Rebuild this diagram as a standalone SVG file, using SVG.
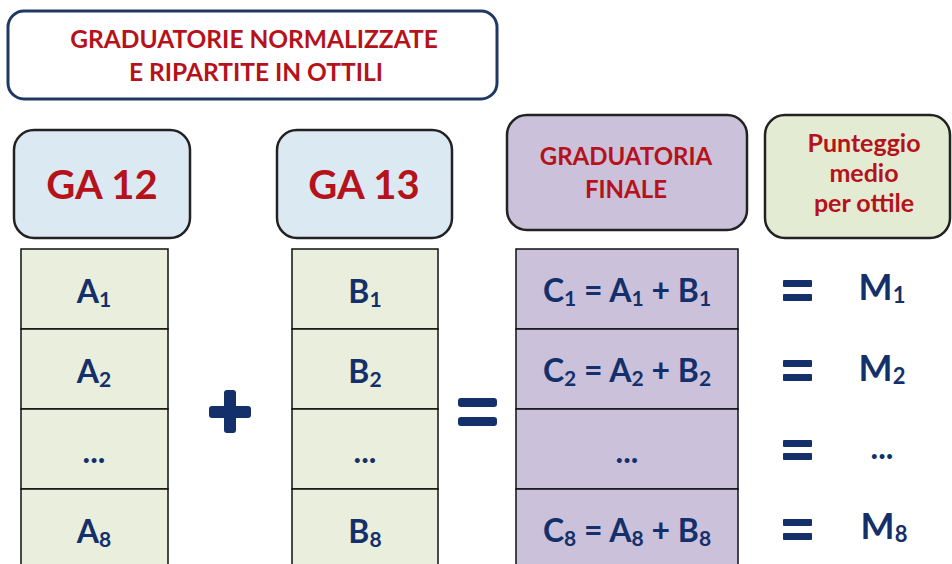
<svg xmlns="http://www.w3.org/2000/svg" width="952" height="564" viewBox="0 0 952 564">
<style>
.red{fill:#b5121b;font-family:Lato,"Liberation Sans",sans-serif;font-weight:bold;text-anchor:middle}
.navy{fill:#14306a;font-family:Lato,"Liberation Sans",sans-serif;font-weight:bold;text-anchor:middle}
.hdr{stroke:#222;stroke-width:2.5}
.cellA{fill:#eaeedd;stroke:#111;stroke-width:1.5}
.cellC{fill:#cbc1da;stroke:#111;stroke-width:1.5}
.op{fill:#14306a}
</style>
<rect width="952" height="564" fill="#fff"/>
<g id="title">
<rect x="8" y="11" width="489" height="88" rx="16" fill="#fff" stroke="#1f3864" stroke-width="3"/>
<text class="red" x="254" y="48" font-size="24.5">GRADUATORIE NORMALIZZATE</text>
<text class="red" x="256" y="81" font-size="24.5">E RIPARTITE IN OTTILI</text>
</g>
<g id="ga12">
<rect class="hdr" x="14" y="130" width="176" height="108" rx="20" fill="#dbeaf2"/>
<text class="red" x="102" y="199" font-size="40">GA 12</text>
</g>
<g id="ga13">
<rect class="hdr" x="277" y="130" width="175" height="108" rx="20" fill="#dbeaf2"/>
<text class="red" x="364" y="199" font-size="40">GA 13</text>
</g>
<g id="finale">
<rect class="hdr" x="507" y="115" width="240" height="115" rx="20" fill="#cbc1da"/>
<text class="red" x="626" y="165" font-size="24">GRADUATORIA</text>
<text class="red" x="626" y="198" font-size="24">FINALE</text>
</g>
<g id="punteggio">
<rect class="hdr" x="765" y="115" width="185" height="123" rx="20" fill="#e4ebd3"/>
<text class="red" x="864" y="152" font-size="25">Punteggio</text>
<text class="red" x="864" y="182" font-size="25">medio</text>
<text class="red" x="864" y="212" font-size="25">per ottile</text>
</g>
<g id="colA">
<rect class="cellA" x="21" y="249" width="147" height="80"/>
<rect class="cellA" x="21" y="329" width="147" height="80"/>
<rect class="cellA" x="21" y="409" width="147" height="80"/>
<rect class="cellA" x="21" y="489" width="147" height="80"/>
<text class="navy" x="94" y="303" font-size="32">A<tspan font-size="21" dy="4">1</tspan></text>
<text class="navy" x="94" y="383" font-size="32">A<tspan font-size="21" dy="4">2</tspan></text>
<text class="navy" x="94" y="463" font-size="32">...</text>
<text class="navy" x="94" y="543" font-size="32">A<tspan font-size="21" dy="4">8</tspan></text>
</g>
<g id="colB">
<rect class="cellA" x="292" y="249" width="146" height="80"/>
<rect class="cellA" x="292" y="329" width="146" height="80"/>
<rect class="cellA" x="292" y="409" width="146" height="80"/>
<rect class="cellA" x="292" y="489" width="146" height="80"/>
<text class="navy" x="365" y="303" font-size="32">B<tspan font-size="21" dy="4">1</tspan></text>
<text class="navy" x="365" y="383" font-size="32">B<tspan font-size="21" dy="4">2</tspan></text>
<text class="navy" x="365" y="463" font-size="32">...</text>
<text class="navy" x="365" y="543" font-size="32">B<tspan font-size="21" dy="4">8</tspan></text>
</g>
<g id="colC">
<rect class="cellC" x="516" y="249" width="222" height="80"/>
<rect class="cellC" x="516" y="329" width="222" height="80"/>
<rect class="cellC" x="516" y="409" width="222" height="80"/>
<rect class="cellC" x="516" y="489" width="222" height="80"/>
<text class="navy" x="627" y="302" font-size="32">C<tspan font-size="21" dy="4">1</tspan><tspan dy="-4"> = A</tspan><tspan font-size="21" dy="4">1</tspan><tspan dy="-4"> + B</tspan><tspan font-size="21" dy="4">1</tspan></text>
<text class="navy" x="627" y="382" font-size="32">C<tspan font-size="21" dy="4">2</tspan><tspan dy="-4"> = A</tspan><tspan font-size="21" dy="4">2</tspan><tspan dy="-4"> + B</tspan><tspan font-size="21" dy="4">2</tspan></text>
<text class="navy" x="627" y="463" font-size="32">...</text>
<text class="navy" x="627" y="542" font-size="32">C<tspan font-size="21" dy="4">8</tspan><tspan dy="-4"> = A</tspan><tspan font-size="21" dy="4">8</tspan><tspan dy="-4"> + B</tspan><tspan font-size="21" dy="4">8</tspan></text>
</g>
<g id="operators">
<rect class="op" x="224" y="390" width="12" height="43" rx="3"/>
<rect class="op" x="209" y="406" width="42" height="12" rx="3"/>
<rect class="op" x="458" y="398" width="39" height="9" rx="3"/>
<rect class="op" x="458" y="417" width="39" height="9" rx="3"/>
<rect class="op" x="783" y="280" width="29" height="7" rx="1"/>
<rect class="op" x="783" y="294" width="29" height="7" rx="1"/>
<rect class="op" x="783" y="360" width="29" height="7" rx="1"/>
<rect class="op" x="783" y="374" width="29" height="7" rx="1"/>
<rect class="op" x="783" y="440" width="29" height="7" rx="1"/>
<rect class="op" x="783" y="453" width="29" height="7" rx="1"/>
<rect class="op" x="783" y="519" width="29" height="7" rx="1"/>
<rect class="op" x="783" y="533" width="29" height="7" rx="1"/>
</g>
<g id="means">
<text class="navy" x="882" y="300" font-size="36">M<tspan font-size="22" dy="3">1</tspan></text>
<text class="navy" x="882" y="381" font-size="36">M<tspan font-size="22" dy="3">2</tspan></text>
<text class="navy" x="882" y="459" font-size="32">...</text>
<text class="navy" x="884" y="539" font-size="36">M<tspan font-size="22" dy="3">8</tspan></text>
</g>
</svg>
